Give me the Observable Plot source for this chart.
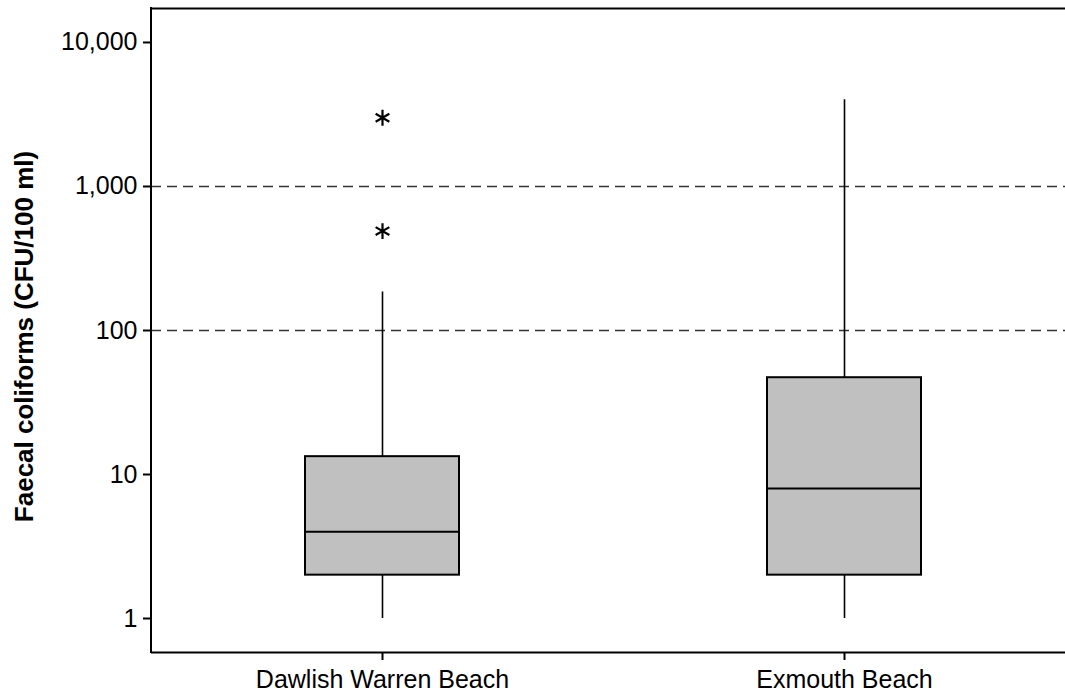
<!DOCTYPE html>
<html>
<head>
<meta charset="utf-8">
<script src="https://cdn.jsdelivr.net/npm/d3@7"></script>
<script src="https://cdn.jsdelivr.net/npm/@observablehq/plot@0.6"></script>
<style>
  html, body { margin: 0; padding: 0; background: #fff; overflow: hidden; }
  #chart { width: 1065px; height: 693px; overflow: hidden; }
  #chart svg { max-width: none !important; }
</style>
</head>
<body>
<div id="chart"></div>
<script>
// ---- data ----
const sites = ["Dawlish Warren Beach", "Exmouth Beach"];
const whiskerLow = [1, 1];
const q1 = [2, 2];
const median = [4, 8];
const q3 = [13.3, 47];
const whiskerHigh = [185, 4000];
const outlierSite = ["Dawlish Warren Beach", "Dawlish Warren Beach"];
const outlierValue = [3000, 490];
const guideLines = [100, 1000];
const yTicks = [1, 10, 100, 1000, 10000];
const yLabel = "Faecal coliforms (CFU/100 ml)";
const yDomain = [Math.pow(10, -0.236), Math.pow(10, 4.236)];

const boxes = sites.map((s, i) => ({
  site: s, lo: whiskerLow[i], q1: q1[i], med: median[i], q3: q3[i], hi: whiskerHigh[i]
}));
const outliers = outlierSite.map((s, i) => ({site: s, value: outlierValue[i]}));

const W = 1065, ML = 151;
const plot = Plot.plot({
  width: W,
  height: 693,
  marginLeft: ML,
  marginRight: 0,
  marginTop: 8,
  marginBottom: 41,
  style: {fontFamily: "'Liberation Sans', Arial, sans-serif", fontSize: "25px", color: "#000", background: "#fff", maxWidth: "none"},
  x: {type: "band", domain: sites, padding: 0, range: [151, 1075], label: null},
  y: {type: "log", domain: yDomain, label: null},
  marks: [
    Plot.ruleY(guideLines, {stroke: "#333", strokeWidth: 1.7, strokeDasharray: "10,6"}),
    Plot.ruleX(boxes, {x: "site", y1: "lo", y2: "hi", stroke: "#000", strokeWidth: 1.6}),
    Plot.rectY(boxes, {x: "site", y1: "q1", y2: "q3", fill: "#c0c0c0", stroke: "#000", strokeWidth: 2, insetLeft: 154, insetRight: 154}),
    Plot.tickY(boxes, {x: "site", y: "med", stroke: "#000", strokeWidth: 2, insetLeft: 154, insetRight: 154}),
    Plot.dot(outliers, {x: "site", y: "value", symbol: "asterisk", r: 7.5, stroke: "#000", strokeWidth: 2.2}),
    Plot.axisY({ticks: yTicks, tickFormat: d3.format(","), tickSize: 8, tickPadding: 6, strokeWidth: 2, label: null, fontSize: 25}),
    Plot.axisX({tickSize: 8, tickPadding: 10, strokeWidth: 2, label: null, fontSize: 25}),
    // top and bottom edges of the frame
    Plot.ruleY(yDomain, {stroke: "#000", strokeWidth: 2}),
    Plot.text([yLabel], {frameAnchor: "left", rotate: -90, dx: -127, dy: 6, textAnchor: "middle", fontWeight: "bold", fontSize: 26, fill: "#000"})
  ]
});
document.getElementById("chart").appendChild(plot);

// left edge of the frame, positioned from the chart's own y scale
const yScale = plot.scale("y");
d3.select(plot).append("line")
  .attr("x1", ML).attr("x2", ML)
  .attr("y1", yScale.apply(yDomain[0]) + 1)
  .attr("y2", yScale.apply(yDomain[1]) - 1)
  .attr("stroke", "#000")
  .attr("stroke-width", 2);
</script>
</body>
</html>
